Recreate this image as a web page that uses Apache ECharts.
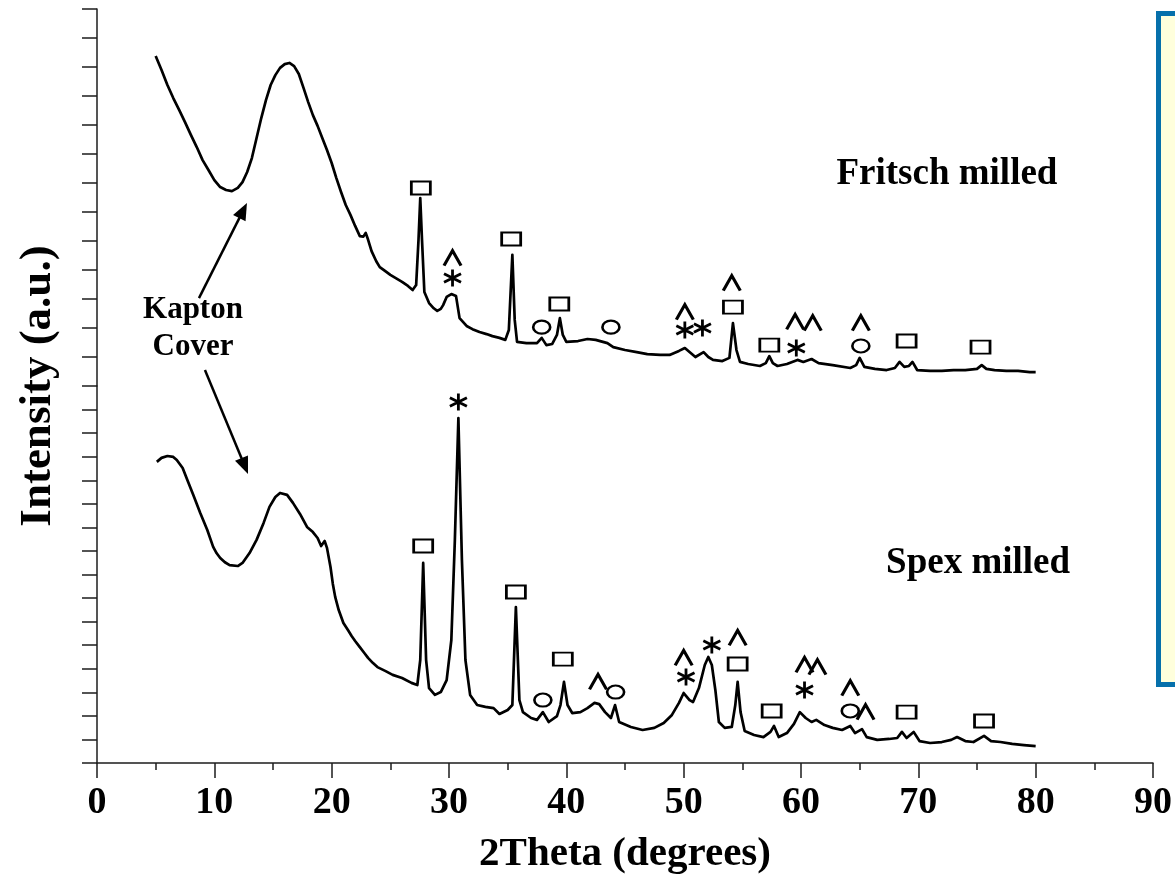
<!DOCTYPE html>
<html>
<head>
<meta charset="utf-8">
<script src="https://cdn.jsdelivr.net/npm/echarts@6/dist/echarts.min.js"></script>
<style>
  html, body { margin: 0; padding: 0; background: #ffffff; }
  #chart { width: 1175px; height: 887px; }
</style>
</head>
<body>
<div id="chart"></div>
<script>
// ---- X-ray diffraction scans: [2theta (deg), intensity (a.u.)] ----
// Fritsch milled sample (upper panel)
const fritschScan = [
  [5.0,1138],[5.5,1090],[6.0,1038],[6.5,993],[7.0,952],[7.5,910],[8.0,866],[8.5,824],[9.0,779],
  [9.5,745],[10.0,710],[10.5,686],[11.0,676],[11.5,672],[12.0,683],[12.4,703],[12.8,738],[13.2,786],
  [13.6,855],[14.0,924],[14.4,986],[14.8,1038],[15.2,1072],[15.6,1097],[16.0,1110],[16.4,1114],
  [16.8,1103],[17.2,1076],[17.6,1028],[18.0,979],[18.4,934],[18.8,897],[19.2,855],[19.6,814],
  [20.0,769],[20.4,717],[20.8,669],[21.2,624],[21.6,590],[22.0,552],[22.4,517],[22.7,515],
  [22.9,528],[23.1,505],[23.4,465],[23.8,430],[24.1,410],[24.6,395],[25.0,383],[25.5,371],[26.0,359],
  [26.5,345],[26.9,331],[27.2,348],[27.4,503],[27.55,648],[27.7,503],[27.9,324],[28.3,286],[28.7,268],
  [29.0,259],[29.3,266],[29.5,279],[29.8,307],[30.2,317],[30.6,310],[30.9,234],[31.5,207],[32.0,196],
  [32.6,186],[33.2,179],[33.7,172],[34.3,166],[34.8,159],[35.1,193],[35.4,452],[35.6,228],[35.8,152],
  [36.6,148],[37.5,148],[37.9,166],[38.3,141],[38.8,145],[39.2,176],[39.45,234],[39.7,176],[40.0,152],
  [41.0,155],[41.8,162],[42.5,159],[43.5,148],[44.0,134],[45.0,124],[46.0,117],[46.9,110],[48.0,107],
  [48.8,107],[49.6,121],[50.1,131],[50.5,117],[51.0,100],[51.7,117],[52.1,100],[52.5,90],[53.3,86],
  [53.9,97],[54.2,217],[54.5,124],[54.8,83],[55.5,76],[56.5,69],[57.0,79],[57.3,103],[57.6,79],
  [58.0,69],[58.8,76],[59.7,90],[60.2,83],[60.9,93],[61.5,79],[62.7,72],[64.2,62],[64.7,72],[65.0,97],
  [65.4,66],[66.3,59],[67.3,55],[68.0,62],[68.4,83],[68.8,66],[69.2,69],[69.5,83],[69.9,55],[71.0,52],
  [72.0,52],[73.0,55],[74.0,55],[75.0,59],[75.4,72],[75.8,59],[76.5,55],[77.5,52],[78.5,52],[79.5,48],
  [80.0,48]
];
// Spex milled sample (lower panel)
const spexScan = [
  [5.1,1278],[5.5,1295],[6.0,1303],[6.5,1299],[6.8,1286],[7.3,1252],[7.7,1201],[8.2,1138],[8.8,1061],
  [9.4,989],[9.9,917],[10.2,890],[10.5,870],[10.9,852],[11.3,840],[12.0,836],[12.4,849],[13.0,891],
  [13.6,947],[14.2,1019],[14.7,1087],[15.2,1129],[15.6,1146],[16.2,1138],[16.7,1104],[17.3,1057],
  [17.9,1002],[18.4,980],[18.8,955],[19.1,921],[19.4,942],[19.6,913],[19.9,832],[20.1,760],[20.3,705],
  [20.6,649],[21.0,594],[21.4,563],[21.7,539],[22.0,518],[22.4,492],[22.8,466],[23.1,446],[23.5,425],
  [23.9,407],[24.6,390],[25.2,374],[26.0,361],[26.8,340],[27.3,331],[27.55,437],[27.8,849],[28.05,437],
  [28.3,318],[28.8,289],[29.3,301],[29.8,352],[30.2,522],[30.5,947],[30.8,1464],[31.1,862],[31.4,437],
  [31.8,289],[32.4,246],[33.1,238],[33.8,233],[34.3,208],[35.0,225],[35.4,246],[35.7,662],[36.0,267],
  [36.3,216],[37.0,191],[37.5,183],[38.0,216],[38.5,174],[39.2,199],[39.5,246],[39.8,344],[40.1,246],
  [40.5,212],[41.2,216],[41.8,233],[42.4,255],[42.8,250],[43.3,216],[43.8,191],[44.15,246],[44.5,174],
  [45.5,153],[46.5,140],[47.5,149],[48.3,170],[49.0,204],[49.6,255],[50.0,297],[50.5,267],[50.8,259],
  [51.3,318],[51.8,416],[52.1,450],[52.4,416],[52.7,310],[53.0,174],[53.5,149],[54.1,153],[54.4,246],
  [54.6,344],[54.85,216],[55.2,136],[56.0,119],[56.8,110],[57.4,132],[57.7,157],[58.1,110],[58.8,127],
  [59.4,166],[59.9,216],[60.4,191],[60.9,174],[61.3,183],[62.0,161],[62.7,149],[63.5,140],[64.2,157],
  [64.6,127],[65.2,144],[65.6,110],[66.5,98],[67.5,102],[68.2,106],[68.6,132],[69.0,106],[69.6,132],
  [70.1,93],[71.0,85],[72.0,89],[72.8,98],[73.3,110],[74.0,93],[74.7,89],[75.6,115],[76.2,93],
  [77.0,89],[78.0,81],[79.0,76],[80.0,72]
];

// ---- Phase identification marks, [2theta, height] ----
const fritschSquares = [[27.6,683],[35.3,507],[39.4,283],[54.2,272],[57.3,141],[69.0,155],[75.3,134]];
const fritschCircles = [[37.9,203],[43.8,203],[65.1,138]];
const fritschCarets  = [[30.3,441],[50.1,255],[54.1,355],[59.5,221],[61.0,217],[65.1,217]];
const fritschStars   = [[30.3,372],[50.1,193],[51.6,200],[59.6,131]];

const spexSquares = [[27.8,921],[35.7,726],[39.7,441],[54.6,420],[57.5,221],[69.0,216],[75.6,178]];
const spexCircles = [[38.0,267],[44.2,301],[64.2,221]];
const spexCarets  = [[42.7,344],[50.0,446],[54.6,531],[60.3,416],[61.4,407],[64.2,318],[65.5,216]];
const spexStars   = [[30.8,1532],[50.2,365],[52.4,501],[60.3,310]];

// ---- Axis set-up ----
const xRange = [0, 90];
const xStep = 10;
const upperMax = 1300;   // upper panel intensity range
const lowerMax = 1600;   // lower panel intensity range
const yStep = 100;

const FONT = '"Liberation Serif","Times New Roman",Times,serif';
const INK = '#000000';
const AXIS = { color: '#1c1c1c', width: 1.5 };

const chart = echarts.init(document.getElementById('chart'), null, { renderer: 'canvas' });

function markSeries(data, grid, symbol, size, stroke) {
  return {
    type: 'scatter',
    xAxisIndex: grid, yAxisIndex: grid,
    data: data,
    symbol: symbol,
    symbolSize: size,
    silent: true,
    z: 5,
    emphasis: { disabled: true },
    itemStyle: { color: 'rgba(0,0,0,0)', borderColor: INK, borderWidth: stroke, opacity: 1 }
  };
}

const CARET = 'path://M0,14L8,0L16,14';
const STAR = 'path://M8,0L8,16M1.07,4L14.93,12M1.07,12L14.93,4';

function yAxisFor(grid, max) {
  return {
    gridIndex: grid, type: 'value', min: 0, max: max, interval: yStep,
    axisLine: { show: true, onZero: false, lineStyle: AXIS },
    axisTick: { show: true, inside: false, length: 15, lineStyle: AXIS },
    axisLabel: { show: false },
    splitLine: { show: false }
  };
}

function scanSeries(data, grid) {
  return {
    type: 'line', xAxisIndex: grid, yAxisIndex: grid,
    data: data, showSymbol: false, symbol: 'none', smooth: false,
    silent: true, z: 3,
    lineStyle: { color: INK, width: 2.7, join: 'round' }
  };
}

chart.setOption({
  animation: false,
  backgroundColor: '#ffffff',
  grid: [
    { left: 97, right: 22, top: 9, height: 377 },
    { left: 97, right: 22, top: 386, height: 377 }
  ],
  xAxis: [
    { gridIndex: 0, type: 'value', min: xRange[0], max: xRange[1], interval: xStep, show: false },
    {
      gridIndex: 1, type: 'value', min: xRange[0], max: xRange[1], interval: xStep,
      axisLine: { show: true, onZero: false, lineStyle: AXIS },
      axisTick: { show: true, inside: false, length: 15, lineStyle: AXIS },
      minorTick: { show: true, splitNumber: 2, length: 7, lineStyle: AXIS },
      splitLine: { show: false }, minorSplitLine: { show: false },
      axisLabel: { fontFamily: FONT, fontWeight: 'bold', fontSize: 38, color: INK, margin: 21 },
      name: '2Theta (degrees)', nameLocation: 'middle', nameGap: 71,
      nameTextStyle: { fontFamily: FONT, fontWeight: 'bold', fontSize: 41, color: INK }
    }
  ],
  yAxis: [ yAxisFor(0, upperMax), yAxisFor(1, lowerMax) ],
  series: [
    scanSeries(fritschScan, 0),
    scanSeries(spexScan, 1),
    markSeries(fritschSquares, 0, 'rect', [19, 13], 2.3),
    markSeries(fritschCircles, 0, 'circle', [17, 13], 2.3),
    markSeries(fritschCarets, 0, CARET, [17, 15], 3),
    markSeries(fritschStars, 0, STAR, [17, 17], 2.8),
    markSeries(spexSquares, 1, 'rect', [19, 13], 2.3),
    markSeries(spexCircles, 1, 'circle', [17, 13], 2.3),
    markSeries(spexCarets, 1, CARET, [17, 15], 3),
    markSeries(spexStars, 1, STAR, [17, 17], 2.8)
  ]
});

// ---- Annotations anchored in data space ----
const px = (grid, p) => chart.convertToPixel({ gridIndex: grid }, p);

function arrow(from, to, grid) {
  const a = px(grid, from), b = px(grid, to);
  const dx = b[0] - a[0], dy = b[1] - a[1];
  const len = Math.hypot(dx, dy), ux = dx / len, uy = dy / len;
  const headL = 17, headW = 7;
  const base = [b[0] - ux * headL, b[1] - uy * headL];
  return [
    { type: 'line', silent: true, z: 10,
      shape: { x1: a[0], y1: a[1], x2: base[0] + ux * 2, y2: base[1] + uy * 2 },
      style: { stroke: INK, lineWidth: 2.5 } },
    { type: 'polygon', silent: true, z: 10,
      shape: { points: [b, [base[0] - uy * headW, base[1] + ux * headW], [base[0] + uy * headW, base[1] - ux * headW]] },
      style: { fill: INK } }
  ];
}

function label(text, grid, p, size) {
  const q = px(grid, p);
  return { type: 'text', silent: true, z: 10, x: q[0], y: q[1],
    style: { text: text, fontFamily: FONT, fontWeight: 'bold', fontSize: size, fill: INK,
             align: 'center', verticalAlign: 'middle' } };
}

chart.setOption({
  graphic: [
    // side panel frame
    { type: 'rect', silent: true, z: 1,
      shape: { x: 1158.5, y: 13.5, width: 40, height: 671 },
      style: { fill: '#ffffdc', stroke: '#0670ab', lineWidth: 5 } },
    // vertical axis title
    { type: 'text', silent: true, z: 10, x: 38, y: 386, rotation: Math.PI / 2,
      style: { text: 'Intensity (a.u.)', fontFamily: FONT, fontWeight: 'bold', fontSize: 45,
               fill: INK, align: 'center', verticalAlign: 'middle' } },
    label('Fritsch milled', 0, [72.44, 728], 37),
    label('Spex milled', 1, [75.09, 849], 37),
    label('Kapton', 0, [8.18, 262], 31),
    label('Cover', 0, [8.18, 134], 31),
    ...arrow([8.69, 303], [12.78, 631], 0),
    ...arrow([9.2, 1668], [12.87, 1227], 1)
  ]
});
</script>
</body>
</html>
